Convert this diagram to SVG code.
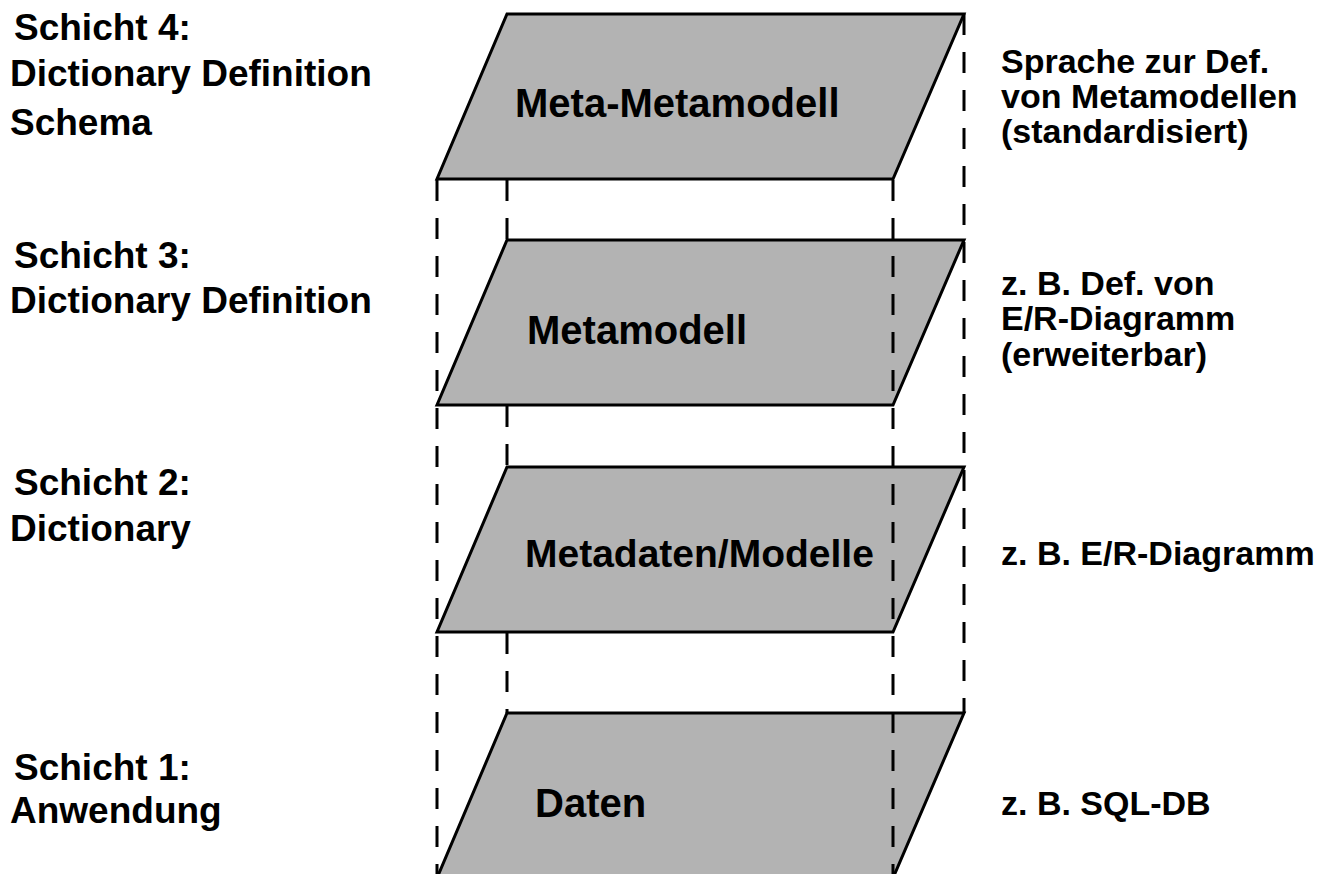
<svg xmlns="http://www.w3.org/2000/svg" width="1336" height="874" viewBox="0 0 1336 874">
<style>
.layer{fill:#b3b3b3;stroke:#000;stroke-width:3;stroke-linejoin:miter}
.dash{fill:none;stroke:#000;stroke-width:3;stroke-dasharray:21 17}
.lbl{font-family:"Liberation Sans",Arial,sans-serif;font-weight:bold;fill:#000}
.side{font-size:37px}
.main{font-size:40px}
.note{font-size:34px}
</style>
<rect width="1336" height="874" fill="#fff"/>
<g id="connectors-back">
<path class="dash" d="M507 180V240M507 406V467M507 633V713"/>
<path class="dash" d="M437 180V874"/>
<path class="dash" d="M964 14V713"/>
</g>
<g id="layer4">
<polygon class="layer" points="507,14 964,14 893,179 437,179"/>
<text class="lbl main" x="515" y="117">Meta-Metamodell</text>
</g>
<g id="layer3">
<polygon class="layer" points="507,240 964,240 893,405 437,405"/>
<text class="lbl main" x="527" y="344">Metamodell</text>
</g>
<g id="layer2">
<polygon class="layer" points="507,467 964,467 893,632 437,632"/>
<text class="lbl main" x="525" y="567" style="font-size:39px">Metadaten/Modelle</text>
</g>
<g id="layer1">
<polygon class="layer" points="507,713 964,713 893,878 437,878"/>
<text class="lbl main" x="535" y="817">Daten</text>
</g>
<g id="connectors">
<path class="dash" d="M893 180V874"/>
</g>
<g id="labels-left">
<text class="lbl side" x="14" y="40">Schicht 4:</text>
<text class="lbl side" x="10" y="86">Dictionary Definition</text>
<text class="lbl side" x="10" y="135">Schema</text>
<text class="lbl side" x="14" y="268">Schicht 3:</text>
<text class="lbl side" x="10" y="313">Dictionary Definition</text>
<text class="lbl side" x="14" y="495">Schicht 2:</text>
<text class="lbl side" x="10" y="541">Dictionary</text>
<text class="lbl side" x="14" y="780">Schicht 1:</text>
<text class="lbl side" x="10" y="823">Anwendung</text>
</g>
<g id="labels-right">
<text class="lbl note" x="1001" y="73">Sprache zur Def.</text>
<text class="lbl note" x="1001" y="108">von Metamodellen</text>
<text class="lbl note" x="1001" y="143">(standardisiert)</text>
<text class="lbl note" x="1001" y="295">z. B. Def. von</text>
<text class="lbl note" x="1001" y="330">E/R-Diagramm</text>
<text class="lbl note" x="1001" y="366">(erweiterbar)</text>
<text class="lbl note" x="1001" y="565">z. B. E/R-Diagramm</text>
<text class="lbl note" x="1001" y="815">z. B. SQL-DB</text>
</g>
</svg>
